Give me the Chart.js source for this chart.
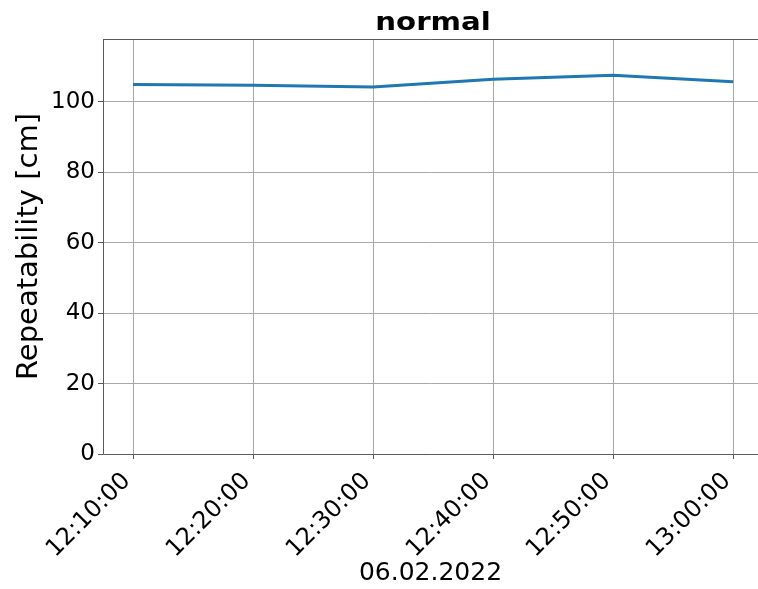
<!DOCTYPE html>
<html>
<head>
<meta charset="utf-8">
<script src="https://cdn.jsdelivr.net/npm/chart.js@4/dist/chart.umd.min.js"></script>
<style>
  html, body { margin: 0; padding: 0; background: #fff; }
  #wrap { width: 758px; height: 589px; }
</style>
</head>
<body>
<div id="wrap"><canvas id="c" width="758" height="589"></canvas></div>
<script>
// Measurement times, in minutes after 12:00 on 06.02.2022
const minutes = [10, 20, 30, 40, 50, 60];
// Repeatability per measurement [cm]
const repeatability = [104.9, 104.7, 104.2, 106.4, 107.5, 105.7];
// Labels shown under the time ticks
const timeLabels = ['12:10:00', '12:20:00', '12:30:00', '12:40:00', '12:50:00', '13:00:00'];
const yTicks = [0, 20, 40, 60, 80, 100];
const chartTitle = 'normal';

const FONT = "'DejaVu Sans', sans-serif";
const GRID = '#a8a8a8';
const SPINE = '#5a5a5a';

// Full time span of the axes (5 % margin either side of the data)
const X_MIN = 7.5, X_FULL_MAX = 62.5;

// Left, bottom and top spines, and the bold heading centred over the axes
const framePlugin = {
  id: 'frame',
  afterDraw(chart) {
    const a = chart.chartArea, ctx = chart.ctx;
    ctx.save();
    ctx.strokeStyle = SPINE;
    ctx.lineWidth = 1;
    ctx.beginPath();
    ctx.moveTo(a.left + 0.5, a.top + 0.5);
    ctx.lineTo(a.right, a.top + 0.5);
    ctx.stroke();
    ctx.beginPath();
    ctx.moveTo(a.left + 0.5, a.top);
    ctx.lineTo(a.left + 0.5, a.bottom + 0.5);
    ctx.lineTo(a.right, a.bottom + 0.5);
    ctx.stroke();

    const xs = chart.scales.x;
    const cx = (xs.getPixelForValue(X_MIN) + xs.getPixelForValue(X_FULL_MAX)) / 2;
    ctx.translate(cx, a.top - 9);
    ctx.scale(1.17, 1);
    ctx.fillStyle = '#000';
    ctx.font = "bold 25px " + FONT;
    ctx.textAlign = 'center';
    ctx.textBaseline = 'alphabetic';
    ctx.fillText(chartTitle, 0, 0);
    ctx.restore();
  }
};

new Chart(document.getElementById('c'), {
  type: 'line',
  data: {
    datasets: [{
      data: minutes.map((m, i) => ({ x: m, y: repeatability[i] })),
      borderColor: '#1f77b4',
      borderWidth: 3,
      pointRadius: 0,
      tension: 0,
      fill: false
    }]
  },
  options: {
    responsive: false,
    animation: false,
    layout: { padding: { top: 39, left: 0, right: 0, bottom: 0 } },
    plugins: {
      legend: { display: false },
      tooltip: { enabled: false },
      title: { display: false }
    },
    scales: {
      x: {
        type: 'linear',
        min: X_MIN,
        max: 62.08,
        afterBuildTicks(scale) {
          scale.ticks = minutes.map(v => ({ value: v }));
        },
        afterFit(scale) {
          scale.height = 135;
          scale.paddingLeft = 0;
          scale.paddingRight = 0;
        },
        ticks: {
          color: '#000',
          font: { family: FONT, size: 24 },
          minRotation: 45,
          maxRotation: 45,
          padding: 8,
          labelOffset: -6,
          autoSkip: false,
          callback: (v) => timeLabels[minutes.indexOf(v)]
        },
        grid: { color: GRID, tickColor: SPINE, lineWidth: 1, tickLength: 5, drawTicks: true },
        border: { display: false },
        title: {
          display: true,
          text: '06.02.2022',
          color: '#000',
          font: { family: FONT, size: 25 },
          padding: { top: 0, bottom: 1 }
        }
      },
      y: {
        min: 0,
        max: 117.8,
        afterBuildTicks(scale) {
          scale.ticks = yTicks.map(v => ({ value: v }));
        },
        afterFit(scale) {
          scale.width = 103;
          scale.paddingTop = 0;
          scale.paddingBottom = 0;
        },
        ticks: {
          color: '#000',
          font: { family: FONT, size: 23 },
          padding: 3
        },
        grid: { color: GRID, lineWidth: 1, tickLength: 5, tickColor: SPINE, drawTicks: true },
        border: { display: false },
        title: {
          display: true,
          text: 'Repeatability [cm]',
          color: '#000',
          font: { family: FONT, size: 29 },
          padding: { top: 12, bottom: 0 }
        }
      }
    }
  },
  plugins: [framePlugin]
});
</script>
</body>
</html>
